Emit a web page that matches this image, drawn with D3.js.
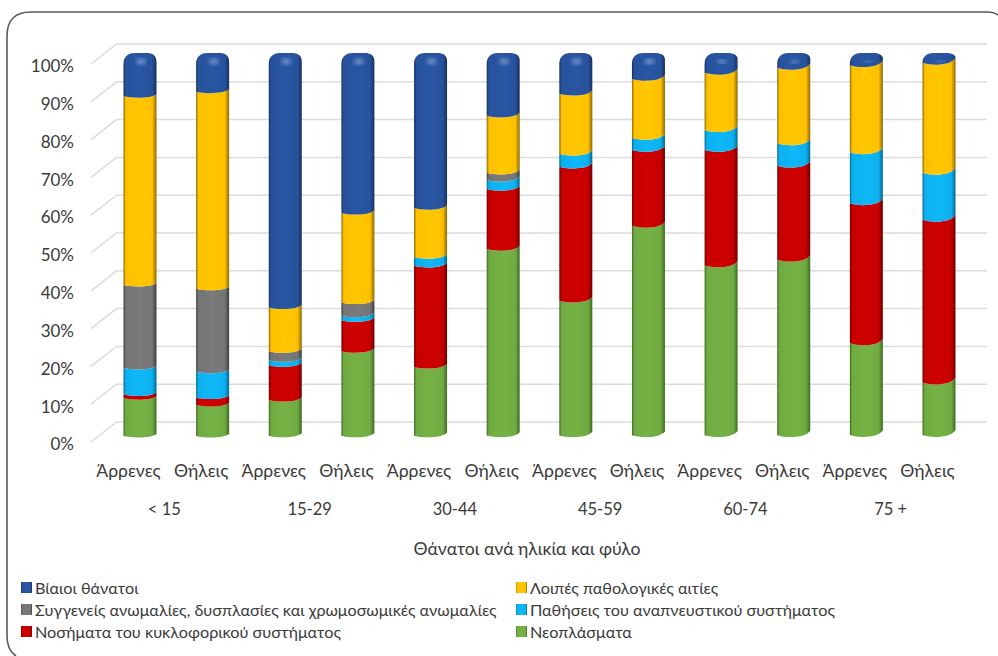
<!DOCTYPE html>
<html lang="el">
<head>
<meta charset="utf-8">
<script src="https://cdn.jsdelivr.net/npm/d3@7/dist/d3.min.js"></script>
<style>
html,body{margin:0;padding:0;background:#fff}
svg{display:block}
text{font-family:Lato,"Noto Sans",sans-serif;fill:#3a3a3a}
</style>
</head>
<body>
<svg id="chart" width="998" height="656"></svg>
<script>
// Deaths by age band and sex, share of each cause of death (%)
const ageGroups = ["< 15", "15-29", "30-44", "45-59", "60-74", "75 +"];
const sexes = ["Άρρενες", "Θήλεις"];
const tickLabels = [0, 10, 20, 30, 40, 50, 60, 70, 80, 90, 100];
const axisTitle = "Θάνατοι ανά ηλικία και φύλο";

const neoplasms    = [10, 8.2, 9.5, 22.4, 18.2, 49.4, 35.7, 55.5, 45, 46.5, 24.3, 13.9];
const circulatory  = [1, 2, 9.2, 8.2, 26.8, 15.9, 35.5, 20.1, 30.6, 24.9, 37.1, 43.1];
const respiratory  = [7, 6.8, 1.3, 1.2, 2.3, 2.4, 3.4, 3.2, 5.2, 5.9, 13.5, 12.5];
const congenital   = [22, 22, 2.4, 3.5, 0, 1.9, 0, 0, 0, 0, 0, 0];
const otherDisease = [50, 52.2, 11.6, 23.7, 13, 15.1, 15.9, 15.6, 15.2, 20, 23.1, 29.1];
const violent      = [10, 8.8, 66, 41, 39.7, 15.3, 9.5, 5.6, 4, 2.7, 2, 1.4];

// Stack order runs bottom to top
const series = [
  {key: "neo", name: "Νεοπλάσματα", values: neoplasms, dark: "#3f6b22", mid: "#70ab42"},
  {key: "cir", name: "Νοσήματα του κυκλοφορικού συστήματος", values: circulatory, dark: "#6e0000", mid: "#c60000"},
  {key: "res", name: "Παθήσεις του αναπνευστικού συστήματος", values: respiratory, dark: "#05688f", mid: "#0db0ee"},
  {key: "con", name: "Συγγενείς ανωμαλίες, δυσπλασίες και χρωμοσωμικές ανωμαλίες", values: congenital, dark: "#3d3d3d", mid: "#757575"},
  {key: "oth", name: "Λοιπές παθολογικές αιτίες", values: otherDisease, dark: "#8a6a08", mid: "#ffc000"},
  {key: "vio", name: "Βίαιοι θάνατοι", values: violent, dark: "#16305f", mid: "#27529c"}
];
// Legend reads two entries per row
const legendRows = [["vio", "oth"], ["con", "res"], ["cir", "neo"]];

const columns = d3.range(ageGroups.length * sexes.length);
const svg = d3.select("#chart");
const defs = svg.append("defs");

series.forEach(s => {
  const g = defs.append("linearGradient").attr("id", "cyl-" + s.key);
  [[0, s.dark], [0.07, s.mid], [0.5, d3.color(s.mid).brighter(0.12)], [0.87, s.mid], [1, s.dark]]
    .forEach(([o, c]) => g.append("stop").attr("offset", o).attr("stop-color", c));
});
defs.append("filter").attr("id", "soft").append("feGaussianBlur").attr("stdDeviation", 2);

// Outer frame of the chart
svg.append("path")
  .attr("d", "M16,656 Q7,650 7,636 L7,36 Q7,12 31,12 L988,12 Q994,12 998,15")
  .attr("fill", "none").attr("stroke", "#5a5a5a").attr("stroke-width", 1.6);

// Scales: front plane of the value axis, back wall, bar plane
const yFront = d3.scaleLinear().domain([0, 100]).range([442, 64]);
const yWall = d3.scaleLinear().domain([0, 100]).range([422, 44]);
const yBar = d3.scaleLinear().domain([0, 100]).range([437, 59.5]);
const yLabel = d3.scaleLinear().domain([0, 100]).range([444.5, 66]);
const xBar = d3.scalePoint().domain(columns).range([140, 939]);
const xLabel = d3.scalePoint().domain(columns).range([128, 927]);
const barHalf = 16.5;
const wallLeft = 116.5, wallRight = 987, floorLeft = 91;

// Gridlines on the back wall with their diagonal return to the axis
const grid = svg.append("g").attr("stroke", "#dcdcdc").attr("stroke-width", 1.5).attr("fill", "none");
tickLabels.forEach(t => {
  grid.append("path").attr("d", `M${floorLeft},${yFront(t)} L${wallLeft},${yWall(t)} L${wallRight},${yWall(t)}`);
});

// Value axis labels
const yAxis = d3.axisLeft(yLabel).tickValues(tickLabels).tickFormat(d => d + "%").tickSize(0).tickPadding(0);
svg.append("g").attr("transform", "translate(74,0)").call(yAxis)
  .call(g => g.select(".domain").remove())
  .selectAll("text").attr("font-size", 17).style("font-family", 'Lato,"Noto Sans",sans-serif').attr("fill", "#3a3a3a");

// Perspective: rims lean further upward toward the right of the chart
const lean = d3.scaleLinear().domain([140, 939]).range([0, 1]);
const rimLeft = cx => 1 + lean(cx);
const rimRight = cx => 3 + 4 * lean(cx);

// Curved front rim of a cylinder slice, drawn from either end
function rimPath(cx, y, reverse) {
  const xl = cx - barHalf, xr = cx + barHalf;
  const yl = y - rimLeft(cx), yr = y - rimRight(cx);
  return reverse
    ? `C${xr - 5},${y + 1.2} ${xl + 9},${y + 1.2} ${xl},${yl}`
    : `C${xl + 9},${y + 1.2} ${xr - 5},${y + 1.2} ${xr},${yr}`;
}

// Stacked cylinders
const bars = svg.append("g");
const stacked = d3.stack()
  .keys(series.map(s => s.key))
  .value((c, key) => series.find(s => s.key === key).values[c])(columns);

stacked.forEach((layer, li) => {
  const s = series[li];
  layer.forEach((d, i) => {
    if (d[1] - d[0] <= 0) return;
    const cx = xBar(columns[i]);
    const yb = yBar(d[0]), yt = yBar(d[1]);
    const xl = cx - barHalf, xr = cx + barHalf;
    let path = `M${xl},${yb - rimLeft(cx)}` + rimPath(cx, yb, false);
    if (li === series.length - 1) {
      // Bevelled top of the column
      const capTop = yBar(100) - 6.5;
      const shoulderR = capTop + 10 - 5 * lean(cx);
      const shoulderL = capTop + 11;
      path += `L${xr},${Math.min(yb - rimRight(cx), shoulderR)}`
        + `C${xr},${capTop + 2} ${xr - 4},${capTop} ${xr - 10},${capTop}`
        + `L${xl + 11},${capTop}`
        + `C${xl + 4},${capTop} ${xl},${capTop + 4} ${xl},${Math.min(yb - rimLeft(cx), shoulderL)}Z`;
    } else {
      path += `L${xr},${yt - rimRight(cx)}` + rimPath(cx, yt, true) + "Z";
    }
    bars.append("path").attr("d", path).attr("fill", `url(#cyl-${s.key})`);
    if (li === series.length - 1) {
      const depth = Math.min(d[1] - d[0], 6);
      bars.append("ellipse")
        .attr("cx", cx + 1).attr("cy", yBar(100) + 2).attr("rx", 5).attr("ry", depth / 2)
        .attr("fill", "#7f9fd6").attr("opacity", 0.85).attr("filter", "url(#soft)");
    }
  });
});

// Sex labels under every column
const xAxis = d3.axisBottom(xLabel).tickFormat(c => sexes[c % 2]).tickSize(0).tickPadding(0);
svg.append("g").attr("transform", "translate(0,464.5)").call(xAxis)
  .call(g => g.select(".domain").remove())
  .selectAll("text").attr("font-size", 17.6).style("font-family", 'Lato,"Noto Sans",sans-serif').attr("fill", "#3a3a3a");

// Age band labels centred under each pair
svg.append("g").selectAll("text").data(ageGroups).join("text")
  .attr("x", (d, i) => (xLabel(i * 2) + xLabel(i * 2 + 1)) / 2)
  .attr("y", 515).attr("text-anchor", "middle").attr("font-size", 16.5).text(d => d);

svg.append("text").attr("x", 527).attr("y", 555).attr("text-anchor", "middle")
  .attr("font-size", 17.6).text(axisTitle);

// Legend
const legendX = [21, 516], legendY = [588, 610, 632];
legendRows.forEach((row, r) => row.forEach((key, c) => {
  const s = series.find(e => e.key === key);
  const g = svg.append("g").attr("transform", `translate(${legendX[c]},${legendY[r]})`);
  g.append("rect").attr("x", 0).attr("y", -6).attr("width", 11).attr("height", 11).attr("fill", `url(#cyl-${s.key})`);
  g.append("text").attr("x", 14).attr("y", 5.5).attr("font-size", 16.2).attr("fill", "#2a2a2a").text(s.name);
}));
</script>
</body>
</html>
